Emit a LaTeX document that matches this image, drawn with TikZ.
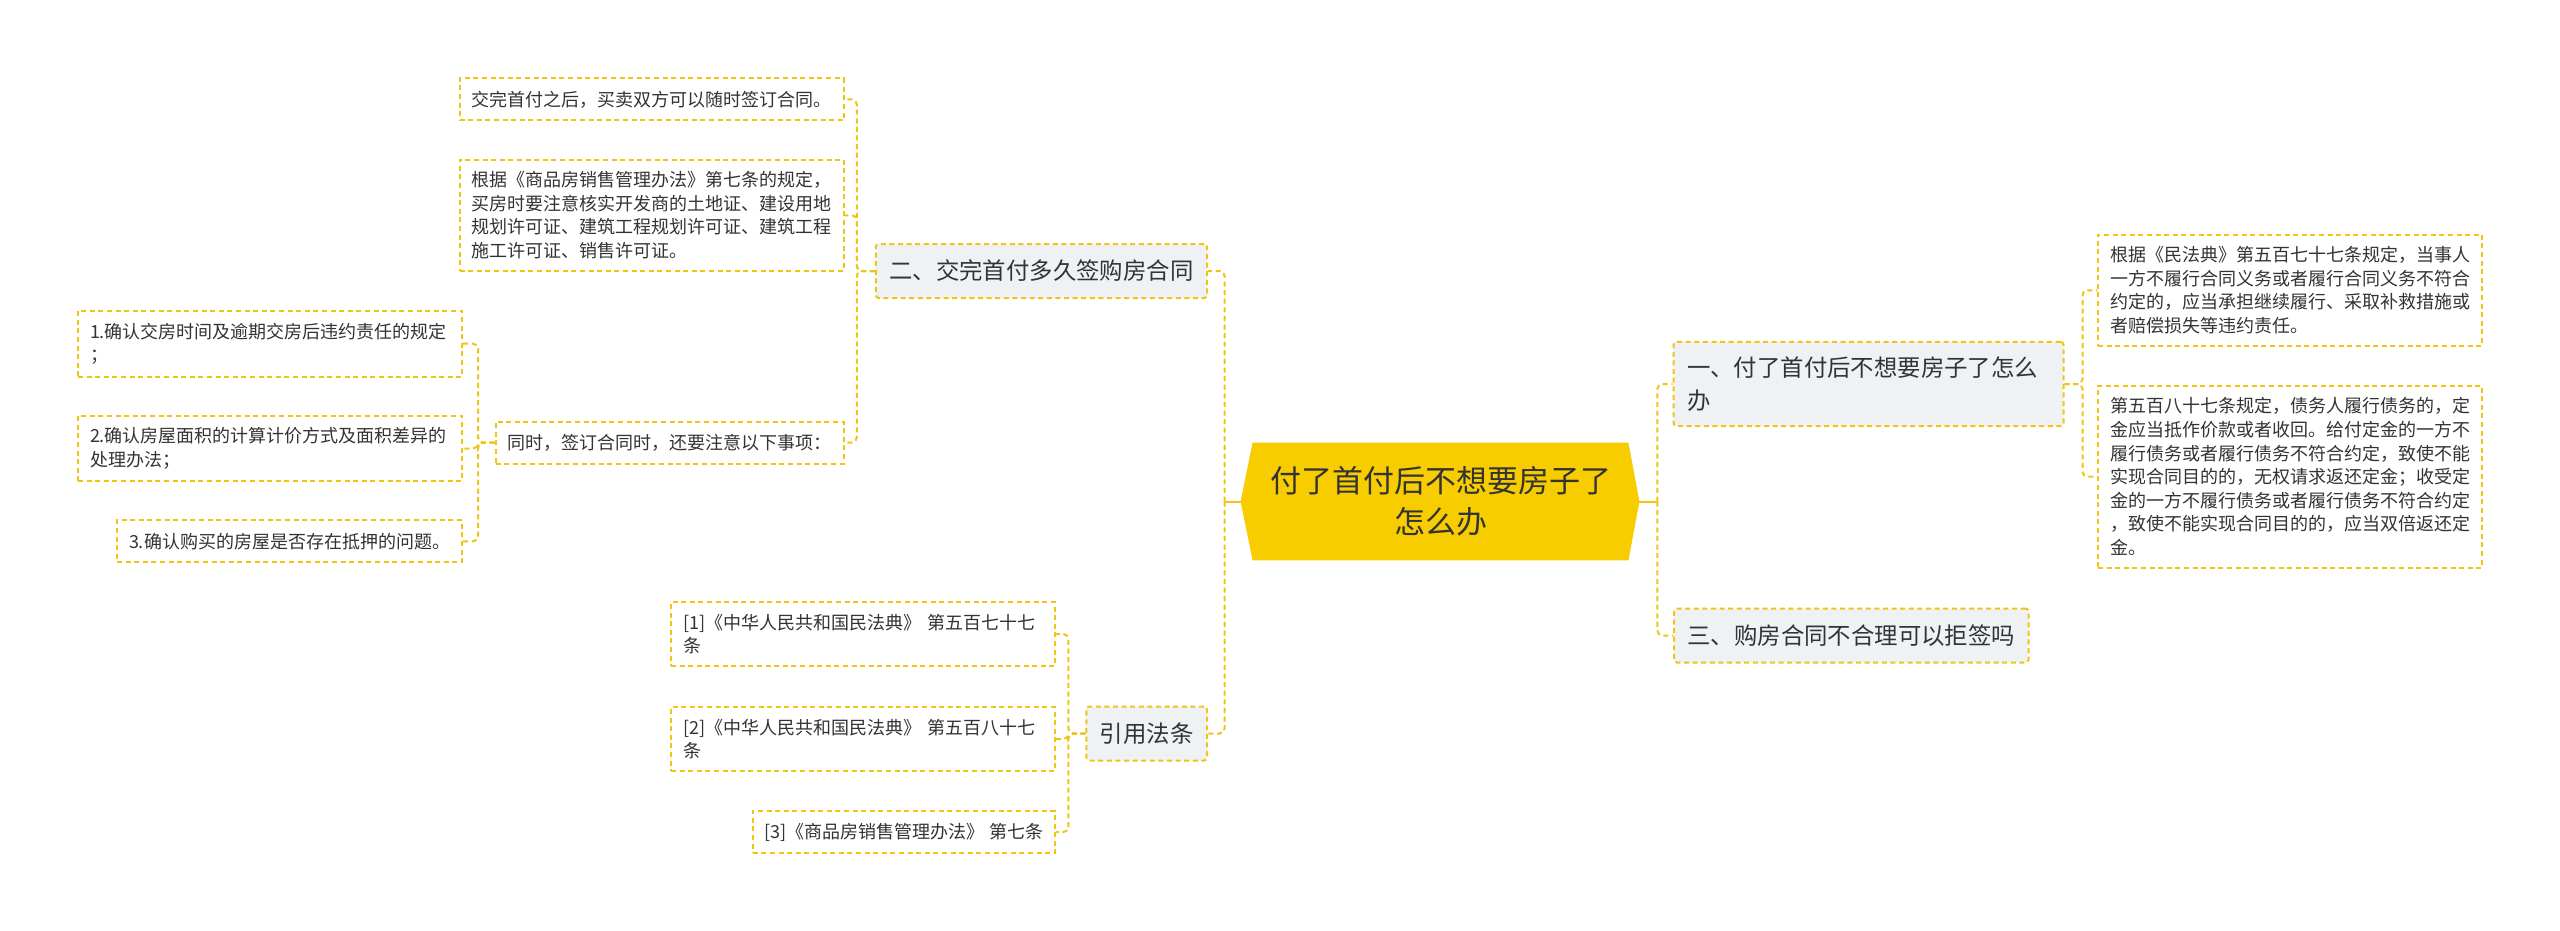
\documentclass[tikz,border=0pt]{standalone}
\usepackage{fontspec}
\newfontfamily\cjk{Noto Sans CJK SC}
\usetikzlibrary{positioning,calc,backgrounds}

\definecolor{lineyel}{RGB}{240,196,20}
\definecolor{rootyel}{RGB}{247,205,0}
\definecolor{boxgray}{RGB}{239,242,245}
\definecolor{inkgray}{RGB}{51,51,51}

\begin{document}
\begin{tikzpicture}[
	x=0.5pt, y=-0.5pt,
	font=\cjk, text=inkgray,
	topic/.style={font={\cjk\fontsize{15.5pt}{20.5pt}\selectfont}, align=center,
		minimum width=187.5pt, minimum height=58.5pt, inner sep=0pt},
	branch/.style={draw=lineyel, line width=1pt, dash pattern=on 2.5pt off 1.8pt,
		fill=boxgray, rounded corners=1.5pt,
		font={\cjk\fontsize{11.7pt}{16.3pt}\selectfont},
		align=left, inner xsep=6.75pt, inner ysep=7.5pt, minimum height=27pt},
	leaf/.style={draw=lineyel, line width=1pt, dash pattern=on 2.5pt off 1.8pt,
		fill=white, font={\cjk\fontsize{9pt}{11.8pt}\selectfont},
		align=left, inner xsep=6pt, inner ysep=6pt, minimum height=21pt},
	wide/.style={leaf, text width=180pt},
	link/.style={draw=lineyel, line width=1pt, dash pattern=on 2.5pt off 1.8pt,
		rounded corners=2.5pt},
	rootlink/.style={draw=lineyel, line width=1pt},
]

\useasboundingbox (0,0) rectangle (2560,931);

% ---- central topic ----
\node[topic] (root) at (1440.5,501.5) {付了首付后不想要房子了\\怎么办};
\coordinate (rootL) at ($(root.west)+(-12,0)$);
\coordinate (rootR) at ($(root.east)+(11,0)$);
\coordinate (lhub) at ($(rootL)+(-16,0)$);
\coordinate (rhub) at ($(rootR)+(18,0)$);

% ---- left side ----
\node[branch, anchor=east] (sign) at (1208,271) {二、交完首付多久签购房合同};
\node[branch, anchor=east] (cite) at (1208,733.5) {引用法条};

\node[leaf, anchor=east] (a1) at (844.5,99.5) {交完首付之后，买卖双方可以随时签订合同。};
\node[wide, anchor=east] (a2) at (844.5,215.3)
	{根据《商品房销售管理办法》第七条的规定，\\买房时要注意核实开发商的土地证、建设用地\\规划许可证、建筑工程规划许可证、建筑工程\\施工许可证、销售许可证。};
\node[leaf, anchor=east] (a3) at (844.5,442.5) {同时，签订合同时，还要注意以下事项：};

\node[wide, anchor=east] (b1) at (463,343.7) {1.确认交房时间及逾期交房后违约责任的规定\\；};
\node[wide, anchor=east] (b2) at (463,448.5) {2.确认房屋面积的计算计价方式及面积差异的\\处理办法；};
\node[leaf, anchor=east] (b3) at (463,541.3) {3.确认购买的房屋是否存在抵押的问题。};

\node[wide, anchor=east] (c1) at (1056,634) {[1]《中华人民共和国民法典》 第五百七十七\\条};
\node[wide, anchor=east] (c2) at (1056,739) {[2]《中华人民共和国民法典》 第五百八十七\\条};
\node[leaf, anchor=east] (c3) at (1056,832) {[3]《商品房销售管理办法》 第七条};

% ---- right side ----
\node[branch, anchor=west, text width=181.5pt] (quit) at (1672.5,384)
	{一、付了首付后不想要房子了怎么\\办};
\node[branch, anchor=west] (refuse) at (1673,635.5) {三、购房合同不合理可以拒签吗};

\node[wide, anchor=west] (d1) at (2097,290.3)
	{根据《民法典》第五百七十七条规定，当事人\\一方不履行合同义务或者履行合同义务不符合\\约定的，应当承担继续履行、采取补救措施或\\者赔偿损失等违约责任。};
\node[wide, anchor=west] (d2) at (2097,476.7)
	{第五百八十七条规定，债务人履行债务的，定\\金应当抵作价款或者收回。给付定金的一方不\\履行债务或者履行债务不符合约定，致使不能\\实现合同目的的，无权请求返还定金；收受定\\金的一方不履行债务或者履行债务不符合约定\\，致使不能实现合同目的的，应当双倍返还定\\金。};

% ---- hexagon behind the topic ----
\begin{scope}[on background layer]
	\fill[white] (0,0) rectangle (2560,931);
	\fill[rootyel] (root.north west) -- (root.north east) -- (rootR)
		-- (root.south east) -- (root.south west) -- (rootL) -- cycle;
\end{scope}

% ---- connectors ----
\draw[rootlink] (rootL) -- (lhub);
\draw[rootlink] (rootR) -- (rhub);
\draw[link] (lhub) |- (sign.east);
\draw[link] (lhub) |- (cite.east);
\draw[link] (rhub) |- (quit.west);
\draw[link] (rhub) |- (refuse.west);

\foreach \c in {a1,a2,a3} \draw[link] (sign.west) -- ++(-18,0) |- (\c.east);
\foreach \c in {b1,b2,b3} \draw[link] (a3.west) -- ++(-16.5,0) |- (\c.east);
\foreach \c in {c1,c2,c3} \draw[link] (cite.west) -- ++(-17,0) |- (\c.east);
\foreach \c in {d1,d2} \draw[link] (quit.east) -- ++(18,0) |- (\c.west);

\end{tikzpicture}
\end{document}
